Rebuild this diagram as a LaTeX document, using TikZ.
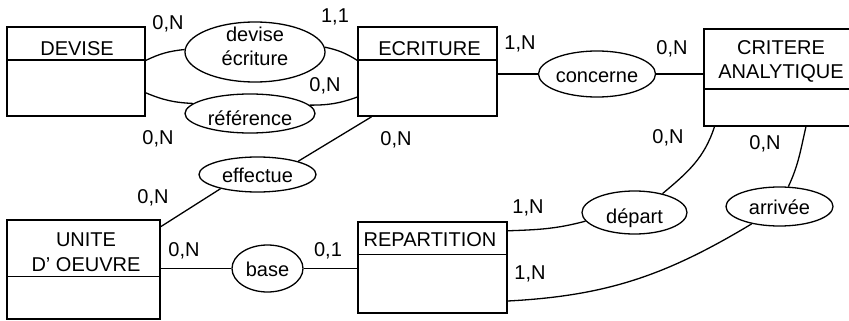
\documentclass[tikz,border=0pt]{standalone}
\usepackage{fontspec}
\setmainfont{Liberation Sans}
\usetikzlibrary{shapes.geometric}

\tikzset{
  entite/.style={draw, line width=1.5pt, inner sep=0pt},
  assoc/.style={draw, ellipse, line width=1.3pt, inner sep=0pt,
    text height=16pt, text depth=0pt},
  nom/.style={inner sep=0pt, align=center},
  card/.style={inner sep=0pt},
  lien/.style={line width=1.3pt}
}

\begin{document}
\begin{tikzpicture}[x=1pt, y=-1pt, font=\fontsize{20}{24.5}\selectfont]
  \useasboundingbox (0,0) rectangle (849,321);

  % entites
  \node[entite, minimum width=138pt, minimum height=89pt] (devise) at (76,71.5) {};
  \node[entite, minimum width=139pt, minimum height=89pt] (ecriture) at (427.5,71.5) {};
  \node[entite, minimum width=147pt, minimum height=97pt] (critere) at (777.5,77.5) {};
  \node[entite, minimum width=153pt, minimum height=99pt] (unite) at (83.5,269.5) {};
  \node[entite, minimum width=149pt, minimum height=91pt] (repartition) at (432.5,267.5) {};

  \draw[entite] ([yshift=-34pt]devise.north west) -- ([yshift=-34pt]devise.north east);
  \draw[entite] ([yshift=-34pt]ecriture.north west) -- ([yshift=-34pt]ecriture.north east);
  \draw[entite] ([yshift=-61pt]critere.north west) -- ([yshift=-61pt]critere.north east);
  \draw[entite] ([yshift=-57pt]unite.north west) -- ([yshift=-57pt]unite.north east);
  \draw[entite] ([yshift=-33pt]repartition.north west) -- ([yshift=-33pt]repartition.north east);

  \node[nom] (devise-nom) at (77,48.7) {DEVISE};
  \node[nom] (ecriture-nom) at (429.5,48.7) {ECRITURE};
  \node[nom] (critere-nom) at (781,61.5) {CRITERE\\ANALYTIQUE};
  \node[nom] (unite-nom) at (86,252.2) {UNITE\\D' OEUVRE};
  \node[nom] (repartition-nom) at (430,240) {REPARTITION};

  % associations
  \node[assoc, minimum width=140pt, minimum height=60pt] (devecr) at (255,52) {};
  \node[nom] (devecr-nom) at (255,46.2) {devise\\écriture};
  \node[assoc, minimum width=130pt, minimum height=39pt, text height=23pt] (reference) at (250,113.5) {référence};
  \node[assoc, minimum width=117pt, minimum height=46pt] (concerne) at (597,74) {concerne};
  \node[assoc, minimum width=117pt, minimum height=35pt] (effectue) at (257.5,174.5) {effectue};
  \node[assoc, minimum width=71pt, minimum height=47pt] (base) at (267.5,268.5) {base};
  \node[assoc, minimum width=105pt, minimum height=43pt, text height=21pt] (depart) at (634.5,212.5) {départ};
  \node[assoc, minimum width=107pt, minimum height=39pt] (arrivee) at (779.5,206.5) {arrivée};

  % liens
  \draw[lien] (devise.9) to[bend left=10] (devecr.178);
  \draw[lien] (devecr.4) to[bend left=10] (ecriture.171);
  \draw[lien] (devise.-17) to[bend right=10] (reference.170);
  \draw[lien] (reference.8) to[bend right=10] (ecriture.200);
  \draw[lien] (ecriture.219) -- (effectue.18);
  \draw[lien] (effectue.201) -- (unite.29);
  \draw[lien] (concerne.west) -- (concerne.west -| ecriture.east);
  \draw[lien] (concerne.east) -- (concerne.east -| critere.west);
  \draw[lien] (base.west) -- (base.west -| unite.east);
  \draw[lien] (base.east) -- (base.east -| repartition.west);
  \draw[lien] (critere.218) to[out=-108, in=40] (depart.34);
  \draw[lien] (depart.190) to[out=195, in=2] (repartition.26);
  \draw[lien] (critere.-60) to[out=-103, in=65] (arrivee.66);
  \draw[lien] (arrivee.212) to[out=211, in=3] (repartition.-24);

  % cardinalites
  \node[card] (c-devise-devecr) at (168,24) {0,N};
  \node[card] (c-ecriture-devecr) at (335,17) {1,1};
  \node[card] (c-ecriture-ref) at (325,86) {0,N};
  \node[card] (c-devise-ref) at (158,139) {0,N};
  \node[card] (c-ecriture-eff) at (396,140) {0,N};
  \node[card] (c-ecriture-conc) at (520,44) {1,N};
  \node[card] (c-critere-conc) at (672,49) {0,N};
  \node[card] (c-critere-dep) at (668,138) {0,N};
  \node[card] (c-critere-arr) at (765,144) {0,N};
  \node[card] (c-unite-eff) at (153,198) {0,N};
  \node[card] (c-unite-base) at (184,251) {0,N};
  \node[card] (c-rep-base) at (328,251) {0,1};
  \node[card] (c-rep-dep) at (528,208) {1,N};
  \node[card] (c-rep-arr) at (530,274) {1,N};
\end{tikzpicture}
\end{document}
